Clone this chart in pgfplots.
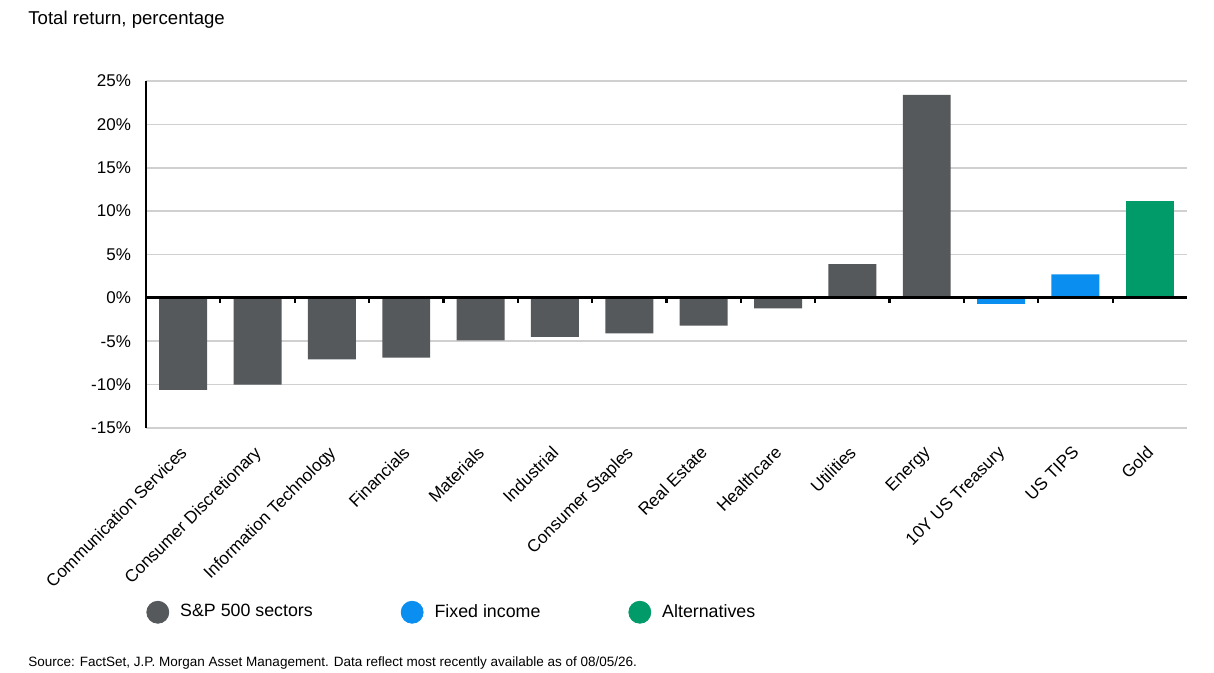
\documentclass[border=0pt]{standalone}
\usepackage{fontspec}
\setmainfont{Liberation Sans}
\usepackage{pgfplots}
\pgfplotsset{compat=1.18}
\definecolor{spgray}{RGB}{85,89,92}
\definecolor{fiblue}{RGB}{10,143,240}
\definecolor{altgreen}{RGB}{0,155,104}
\definecolor{gridgray}{RGB}{208,208,208}
\begin{document}
\begin{tikzpicture}
\path[use as bounding box, fill=white] (0pt,0pt) rectangle (607pt,336.5pt);
\node[anchor=west, inner sep=0pt, font=\fontsize{9.3}{10}\selectfont] at (14pt,326.5pt) {Total return, percentage};
\node[anchor=west, inner sep=0pt, font=\fontsize{6.75}{7}\selectfont] at (14pt,4.8pt) {Source: FactSet, J.P. Morgan Asset Management. Data reflect most recently available as of 08/05/26.};
\begin{axis}[
  at={(73pt,122.5pt)}, anchor=south west,
  scale only axis, width=520.5pt, height=173.5pt,
  xmin=-0.5, xmax=13.5, ymin=-15, ymax=25,
  ytick={-15,-10,-5,0,5,10,15,20,25},
  yticklabels={-15\%,-10\%,-5\%,0\%,5\%,10\%,15\%,20\%,25\%},
  xtick={0,...,13},
  xticklabels={Communication Services,Consumer Discretionary,Information Technology,Financials,Materials,Industrial,Consumer Staples,Real Estate,Healthcare,Utilities,Energy,10Y US Treasury,US TIPS,Gold},
  xticklabel style={rotate=45, anchor=north east, font=\fontsize{8.6}{9}\selectfont, inner sep=1pt, xshift=-6.4pt, yshift=-3.4pt},
  yticklabel style={font=\fontsize{8.5}{9}\selectfont, xshift=-4pt},
  major tick length=0pt,
  axis lines*=left,
  x axis line style={draw=none},
  y axis line style={black, line width=1.3pt},
  ymajorgrids, grid style={gridgray, line width=0.8pt},
  clip=false,
  ybar, bar width=0.645, bar shift=0pt,
  legend style={at={(0,-0.531)}, anchor=west, draw=none, fill=none, inner sep=0pt,
    legend columns=3, font=\fontsize{8.9}{10}\selectfont,
    /tikz/every odd column/.append style={column sep=3.5pt},
    /tikz/every even column/.append style={column sep=42pt}},
  legend cell align=left,
]
\addplot[fill=spgray, draw=none, forget plot] coordinates {(0,-10.6) (1,-10.0) (2,-7.1) (3,-6.9) (4,-4.9) (5,-4.5) (6,-4.1) (7,-3.2) (8,-1.2) (9,3.9) (10,23.4)};
\addplot[fill=fiblue, draw=none, forget plot] coordinates {(11,-0.7) (12,2.7)};
\addplot[fill=altgreen, draw=none, forget plot] coordinates {(13,11.2)};
\addlegendimage{legend image code/.code={\fill[spgray] (5.5pt,0pt) circle (5.5pt);}}
\addlegendentry{S\&P 500 sectors}
\addlegendimage{legend image code/.code={\fill[fiblue] (5.5pt,0pt) circle (5.5pt);}}
\addlegendentry{Fixed income}
\addlegendimage{legend image code/.code={\fill[altgreen] (5.5pt,0pt) circle (5.5pt);}}
\addlegendentry{Alternatives}
\draw[black, line width=1.4pt] (axis cs:-0.5,0) -- (axis cs:13.5,0);
\pgfplotsinvokeforeach{0.5,1.5,2.5,3.5,4.5,5.5,6.5,7.5,8.5,9.5,10.5,11.5,12.5}{
  \draw[black, line width=1.1pt] (axis cs:#1,0) -- (axis cs:#1,-0.55);
}
\end{axis}
\end{tikzpicture}
\end{document}
